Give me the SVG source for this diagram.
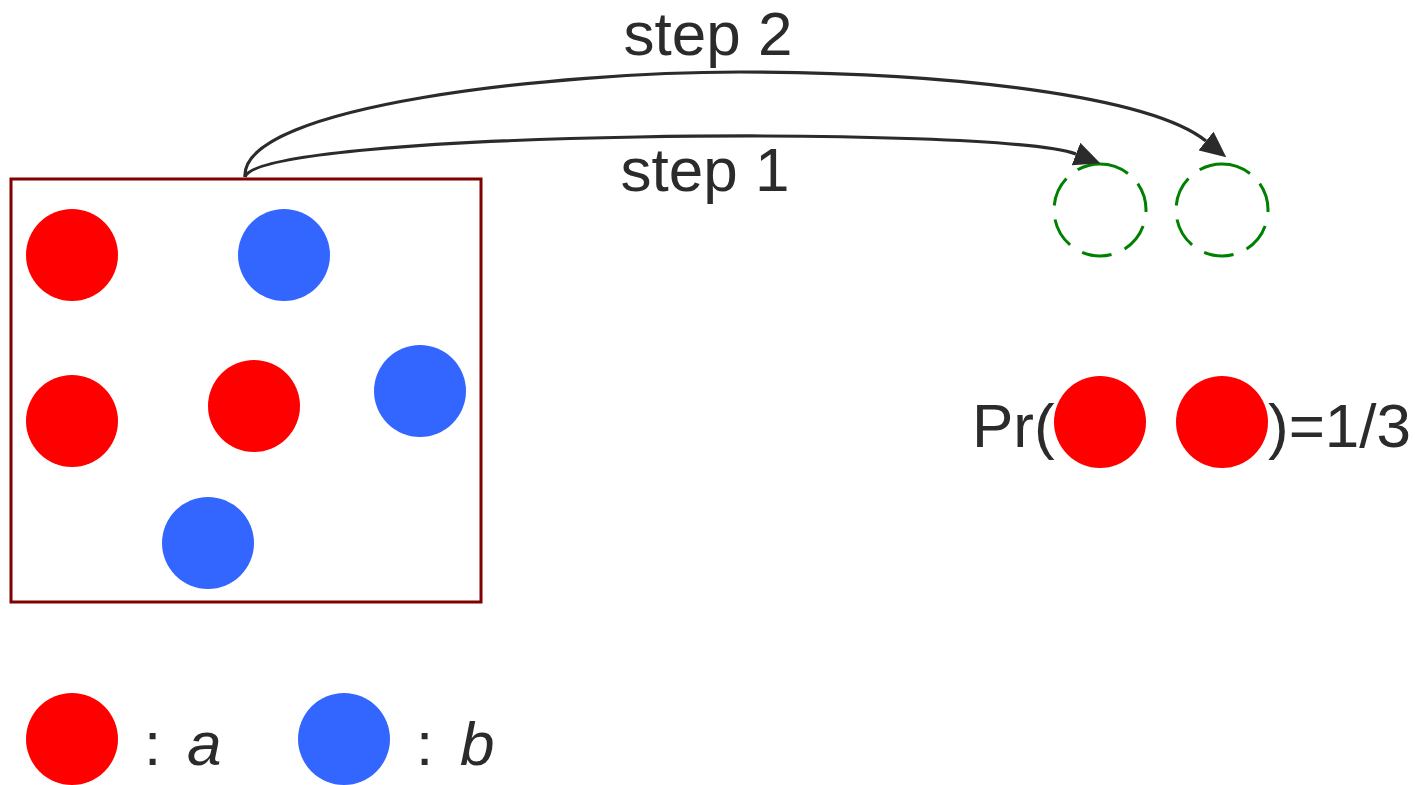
<svg xmlns="http://www.w3.org/2000/svg" width="1419" height="785" viewBox="0 0 1419 785">
  <style>
    .lbl { font-family: "Liberation Sans", Arial, sans-serif; font-size: 62px; fill: #2b2b2b; }
    .it { font-style: italic; }
    .ball-a { fill: #ff0000; }
    .ball-b { fill: #3366ff; }
    .slot { fill: none; stroke: #008000; stroke-width: 3; stroke-dasharray: 30 14.2; }
    .edge { fill: none; stroke: #2b2b2b; stroke-width: 3.2; }
  </style>
  <defs>
    <marker id="head" viewBox="0 0 26 24" refX="0" refY="12" markerWidth="26" markerHeight="24" markerUnits="userSpaceOnUse" orient="auto">
      <path d="M0,0 L26,12 L0,24 Z" fill="#2b2b2b"/>
    </marker>
  </defs>

  <!-- urn -->
  <g id="urn">
    <rect x="11" y="179" width="470" height="423" fill="#ffffff" stroke="#800000" stroke-width="3"/>
    <circle class="ball-a" cx="72" cy="255" r="46"/>
    <circle class="ball-b" cx="284" cy="255" r="46"/>
    <circle class="ball-a" cx="72" cy="421" r="46"/>
    <circle class="ball-a" cx="254" cy="406" r="46"/>
    <circle class="ball-b" cx="420" cy="391" r="46"/>
    <circle class="ball-b" cx="208" cy="543" r="46"/>
  </g>

  <!-- empty draw slots -->
  <g id="slot1">
    <path class="slot" d="M1100,164 A46,46 0 1 1 1100,256 A46,46 0 1 1 1100,164"/>
  </g>
  <g id="slot2">
    <path class="slot" d="M1222,164 A46,46 0 1 1 1222,256 A46,46 0 1 1 1222,164"/>
  </g>

  <!-- draws -->
  <g id="connectors">
    <path class="edge" d="M245,177 C260,130 1000,125 1076,154" marker-end="url(#head)"/>
    <path class="edge" d="M245,177 C240,105 560,72 740,72 C950,72 1150,96 1206,141" marker-end="url(#head)"/>
  </g>

  <g id="labels">
    <text class="lbl" x="708" y="55" text-anchor="middle">step 2</text>
    <text class="lbl" x="705" y="191" text-anchor="middle">step 1</text>
  </g>

  <!-- probability -->
  <g id="probability">
    <text class="lbl" x="972" y="447">Pr(</text>
    <circle class="ball-a" cx="1100" cy="422" r="46"/>
    <circle class="ball-a" cx="1222" cy="422" r="46"/>
    <text class="lbl" x="1268" y="447">)=1/3</text>
  </g>

  <!-- legend -->
  <g id="legend-a">
    <circle class="ball-a" cx="72" cy="739" r="46"/>
    <text class="lbl" x="144" y="765">:</text>
    <text class="lbl it" x="187" y="765">a</text>
  </g>
  <g id="legend-b">
    <circle class="ball-b" cx="344" cy="739" r="46"/>
    <text class="lbl" x="416" y="765">:</text>
    <text class="lbl it" x="460" y="765">b</text>
  </g>
</svg>
